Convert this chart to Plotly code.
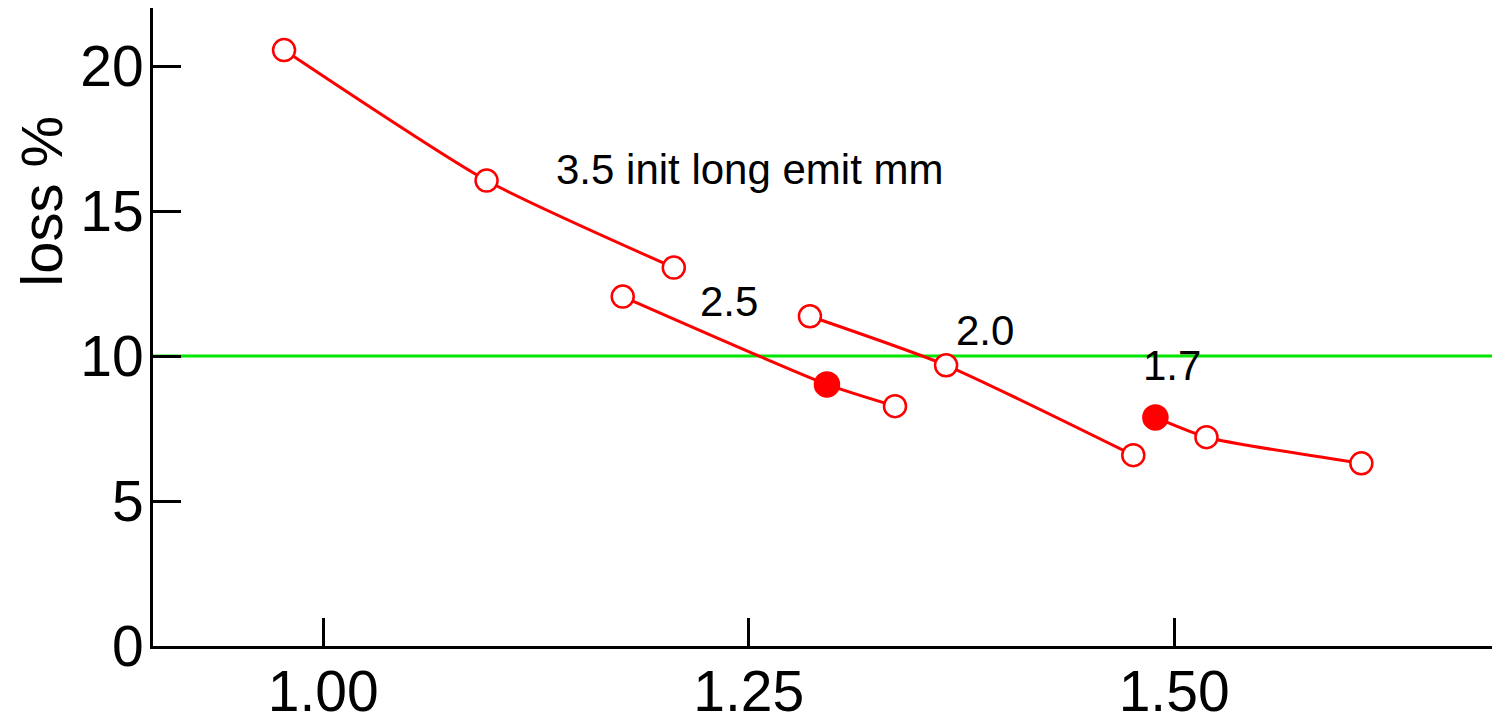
import plotly.graph_objects as go

# Data
x35 = [0.977, 1.096, 1.206]
y35 = [20.55, 16.05, 13.05]
f35 = [False, False, False]

x25 = [1.176, 1.296, 1.336]
y25 = [12.05, 9.02, 8.27]
f25 = [False, True, False]

x20 = [1.286, 1.366, 1.476]
y20 = [11.37, 9.68, 6.58]
f20 = [False, False, False]

x17 = [1.489, 1.519, 1.610]
y17 = [7.88, 7.20, 6.30]
f17 = [True, False, False]

threshold = 10
xticks = [1.00, 1.25, 1.50]
xticklabels = ["1.00", "1.25", "1.50"]
yticks = [0, 5, 10, 15, 20]

labels = ["3.5 init long emit mm", "2.5", "2.0", "1.7"]
label_x = [1.2505, 1.2385, 1.389, 1.499]
label_y = [16.44, 11.89, 10.89, 9.68]

RED = "#ff0000"
GREEN = "#00e600"
FONT = "Liberation Sans"

fig = go.Figure()

# threshold line
fig.add_shape(type="line", xref="paper", yref="y", x0=0, x1=1, y0=threshold, y1=threshold,
              line=dict(color=GREEN, width=3), layer="below")

for xs, ys, fs in [(x35, y35, f35), (x25, y25, f25), (x20, y20, f20), (x17, y17, f17)]:
    fig.add_trace(go.Scatter(x=xs, y=ys, mode="lines",
                             line=dict(color=RED, width=3, shape="spline", smoothing=0.6),
                             showlegend=False, hoverinfo="skip"))
    fig.add_trace(go.Scatter(
        x=xs, y=ys, mode="markers",
        marker=dict(symbol="circle",
                    size=[24 if f else 22 for f in fs],
                    color=[RED if f else "white" for f in fs],
                    opacity=1,
                    line=dict(color=RED, width=2.5)),
        showlegend=False))

for t, lx, ly in zip(labels, label_x, label_y):
    fig.add_annotation(x=lx, y=ly, text=t, showarrow=False, xanchor="center", yanchor="middle",
                       font=dict(family=FONT, size=42, color="black"))

fig.add_annotation(xref="paper", yref="paper", x=-0.0825, y=0.697, text="loss %", showarrow=False,
                   textangle=-90, xanchor="center", yanchor="middle",
                   font=dict(family=FONT, size=58, color="black"))

fig.update_layout(
    width=1500, height=723,
    margin=dict(l=145, r=2, t=0, b=85, autoexpand=False),
    paper_bgcolor="white", plot_bgcolor="white",
    font=dict(family=FONT, color="black"),
)
fig.update_xaxes(range=[0.9, 1.695], tickvals=xticks, ticktext=xticklabels, automargin=False,
                 showgrid=False, zeroline=False, showline=True, linecolor="black", linewidth=3,
                 ticks="inside", ticklen=28, tickwidth=3, tickcolor="black",
                 tickfont=dict(family=FONT, size=57, color="black"), ticklabelstandoff=-6)
fig.update_yaxes(range=[0, 22], tickvals=yticks, automargin=False,
                 showgrid=False, zeroline=False, showline=True, linecolor="black", linewidth=3,
                 ticks="inside", ticklen=28, tickwidth=3, tickcolor="black",
                 tickfont=dict(family=FONT, size=57, color="black"), ticklabelstandoff=-5)

fig.write_html("out.html")
